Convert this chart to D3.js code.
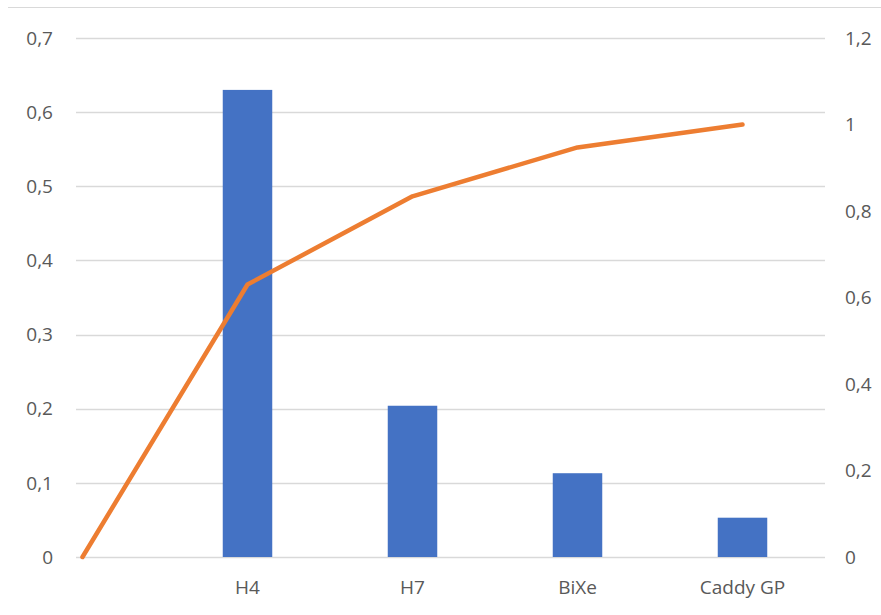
<!DOCTYPE html>
<html>
<head>
<meta charset="utf-8">
<script src="https://cdn.jsdelivr.net/npm/d3@7"></script>
<style>
  body { margin: 0; background: #fff; }
  text { font-family: "Open Sans", "Noto Sans", sans-serif; fill: #595959; }
</style>
</head>
<body>
<svg id="chart"></svg>
<script>
const categories = ["", "H4", "H7", "BiXe", "Caddy GP"];
const barValues = [null, 0.63, 0.204, 0.113, 0.053];
const cumValues = [0, 0.63, 0.834, 0.947, 1.0];
const leftTicks = [0, 0.1, 0.2, 0.3, 0.4, 0.5, 0.6, 0.7];
const rightTicks = [0, 0.2, 0.4, 0.6, 0.8, 1, 1.2];

const [width, height] = [881, 615];
const plot = {left: 76, right: 825, top: 38, bottom: 557};
const fmt = d => String(+d.toFixed(2)).replace(".", ",");

const svg = d3.select("#chart")
  .attr("width", width)
  .attr("height", height);

const x = d3.scaleBand()
  .domain(categories)
  .range([0, 825])
  .paddingInner(0.7)
  .paddingOuter(0.35);

const yLeft = d3.scaleLinear().domain([0, 0.7]).range([plot.bottom, plot.top]);
const yRight = d3.scaleLinear().domain([0, 1.2]).range([plot.bottom, plot.top]);

// chart border (top edge visible)
svg.append("line")
  .attr("x1", 8).attr("x2", width)
  .attr("y1", 7.5).attr("y2", 7.5)
  .attr("stroke", "#d9d9d9");

// gridlines
svg.append("g")
  .selectAll("line")
  .data(leftTicks)
  .join("line")
  .attr("x1", plot.left).attr("x2", plot.right)
  .attr("y1", d => Math.round(yLeft(d)) + 0.5)
  .attr("y2", d => Math.round(yLeft(d)) + 0.5)
  .attr("stroke", "#d9d9d9")
  .attr("stroke-width", 1.3);

// left axis labels
svg.append("g")
  .selectAll("text")
  .data(leftTicks)
  .join("text")
  .attr("x", 53)
  .attr("y", d => yLeft(d))
  .attr("dy", "0.35em")
  .attr("text-anchor", "end")
  .attr("font-size", 19)
  .text(fmt);

// right axis labels
svg.append("g")
  .selectAll("text")
  .data(rightTicks)
  .join("text")
  .attr("x", 845)
  .attr("y", d => yRight(d))
  .attr("dy", "0.35em")
  .attr("text-anchor", "start")
  .attr("font-size", 19)
  .text(fmt);

// bars
svg.append("g")
  .selectAll("rect")
  .data(categories.map((c, i) => ({c, v: barValues[i]})).filter(d => d.v != null))
  .join("rect")
  .attr("x", d => x(d.c))
  .attr("y", d => yLeft(d.v))
  .attr("width", x.bandwidth())
  .attr("height", d => yLeft(0) - yLeft(d.v))
  .attr("fill", "#4472c4");

// category labels
svg.append("g")
  .selectAll("text")
  .data(categories)
  .join("text")
  .attr("x", d => x(d) + x.bandwidth() / 2)
  .attr("y", 587)
  .attr("dy", "0.35em")
  .attr("text-anchor", "middle")
  .attr("font-size", 19)
  .text(d => d);

// cumulative line
const line = d3.line()
  .x((d, i) => x(categories[i]) + x.bandwidth() / 2)
  .y(d => yRight(d));

svg.append("path")
  .datum(cumValues)
  .attr("d", line)
  .attr("fill", "none")
  .attr("stroke", "#ed7d31")
  .attr("stroke-width", 4.5)
  .attr("stroke-linejoin", "round")
  .attr("stroke-linecap", "round");
</script>
</body>
</html>
